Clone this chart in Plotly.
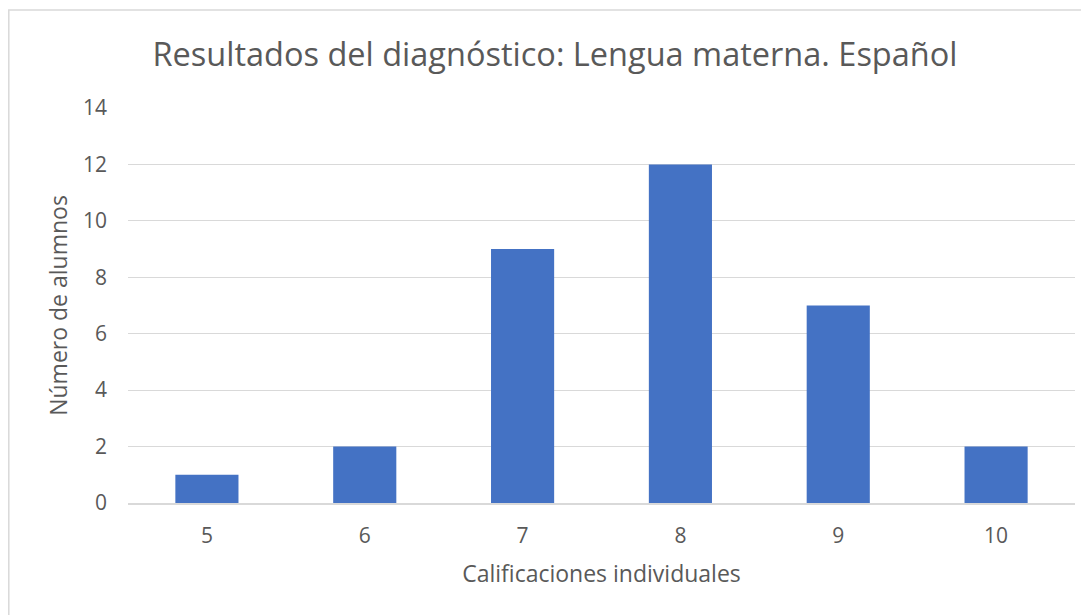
import plotly.graph_objects as go

categorias = ["5", "6", "7", "8", "9", "10"]
alumnos = [1, 2, 9, 12, 7, 2]
titulo = "Resultados del diagnóstico: Lengua materna. Español"

OFF = 8  # page body margin
W, H = 1089 - OFF, 615 - OFF
L, T = 128 - OFF, 108 - OFF
R = W - (1075 - OFF)
B = H - (503 - OFF)
pw, ph = W - L - R, H - T - B


def px(x):
    return (x - OFF - L) / pw


def py(y):
    return 1 - (y - OFF - T) / ph


fig = go.Figure(go.Bar(x=categorias, y=alumnos, marker_color="#4472C4",
                       marker_line_width=0))

font_fam = "Open Sans, sans-serif"
grey = "#595959"
fig.update_layout(
    width=W, height=H,
    margin=dict(l=L, r=R, t=T, b=B),
    paper_bgcolor="white", plot_bgcolor="white",
    bargap=0.6,
    showlegend=False,
    font=dict(family=font_fam, color=grey),
    title=dict(text=titulo, x=px(555), xref="paper", xanchor="center",
               y=1 - (55 - OFF) / H, yanchor="middle",
               font=dict(size=32.5, color=grey, family=font_fam)),
    xaxis=dict(type="category", showgrid=False, showline=True, linecolor="#D9D9D9",
               linewidth=1.5, ticks="", tickfont=dict(size=21, color=grey),
               ticklabelstandoff=13,
               title=dict(text="Calificaciones individuales",
                          font=dict(size=23, color=grey), standoff=18)),
    yaxis=dict(range=[0, 14], dtick=2, showgrid=True, gridcolor="#D9D9D9",
               gridwidth=1.2, zeroline=False, showline=False, ticks="",
               tickfont=dict(size=21, color=grey), ticklabelstandoff=20,
               title=dict(text="Número de alumnos",
                          font=dict(size=23, color=grey), standoff=8)),
    shapes=[dict(type="rect", xref="paper", yref="paper",
                 x0=px(8.8), x1=px(1100), y0=py(630), y1=py(10),
                 line=dict(color="#D9D9D9", width=1.5), fillcolor="rgba(0,0,0,0)",
                 layer="below")],
)

fig.write_html("out.html")
